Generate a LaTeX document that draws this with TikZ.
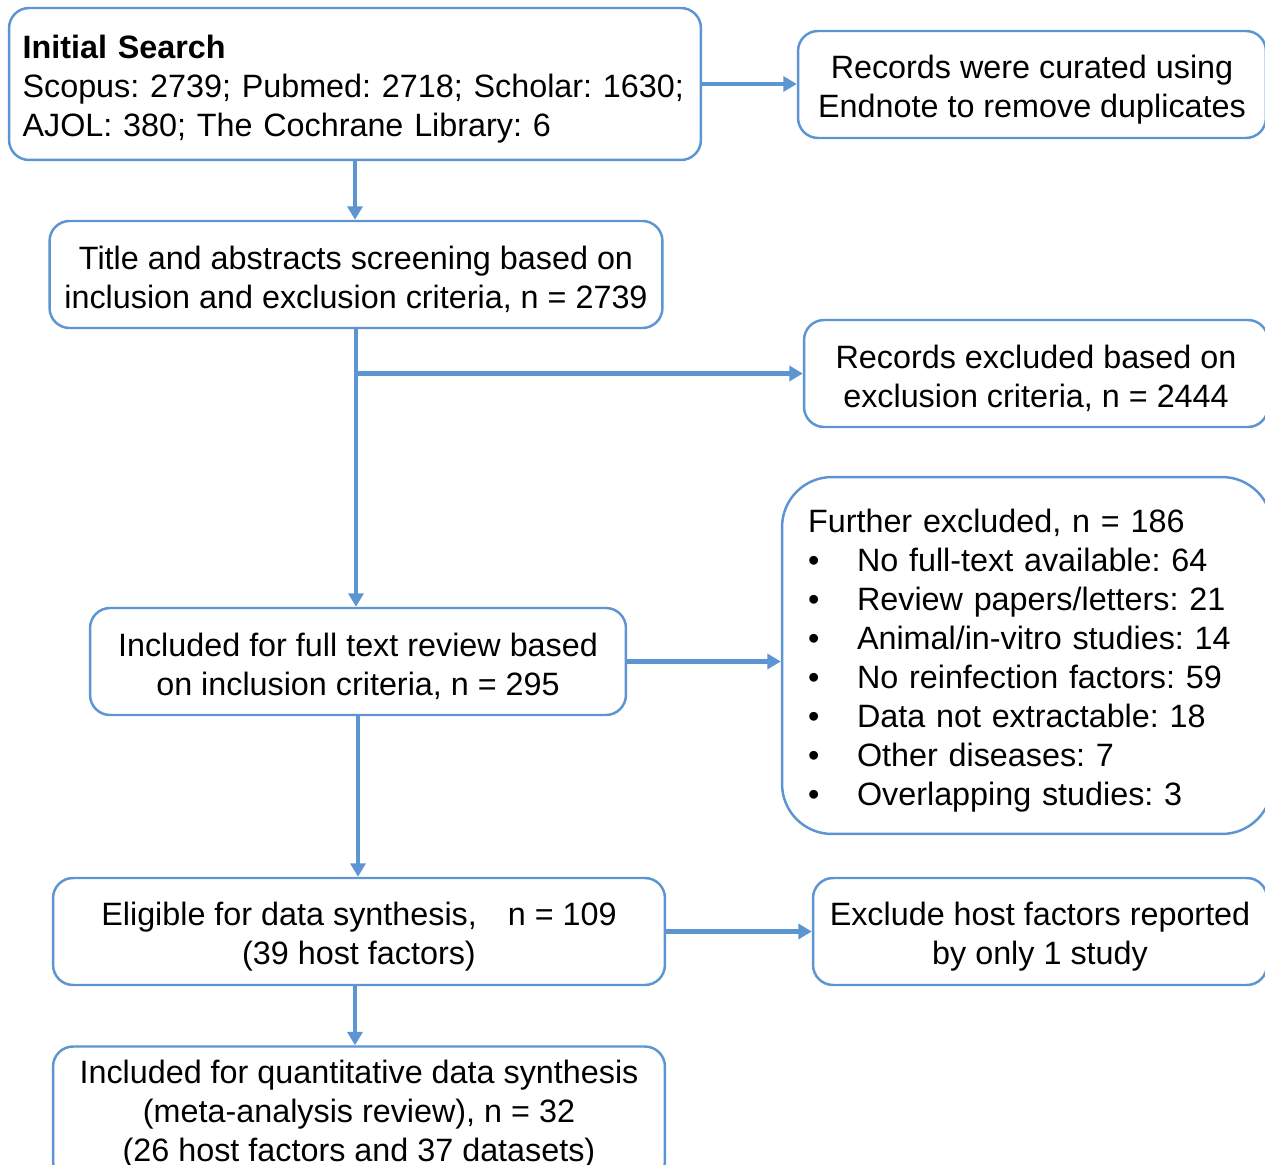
\documentclass[tikz,border=0pt]{standalone}
\usepackage{fontspec}
\setmainfont{Liberation Sans}
\usepackage{xcolor}
\usepackage{tikz}
\usetikzlibrary{arrows.meta,positioning,calc}

\definecolor{flowblue}{RGB}{92,149,210}
\newcommand{\boxstrut}{\rule{0pt}{19pt}}

\begin{document}
\frenchspacing
\begin{tikzpicture}[x=0.02cm, y=-0.02cm,
    every node/.style={font=\fontsize{18.4}{22.2}\selectfont},
    box/.style={draw=flowblue, line width=1.4pt, fill=white, rounded corners=0.4cm, align=center, minimum height=2.14cm},
    arr/.style={draw=flowblue, line width=2.3pt, -{Triangle[length=0.27cm, width=0.3cm]}}]
    \clip (0,0) rectangle (1265,1165);

    % Initial search box
    \node[box, align=left, text width=13.3cm, inner xsep=0.27cm, minimum height=3.04cm] (search) at (355,84)
        {\boxstrut\textbf{Initial Search}\\
         Scopus: 2739; Pubmed: 2718; Scholar: 1630;\\
         AJOL: 380; The Cochrane Library: 6};

    % Duplicates box
    \node[box, minimum width=9.36cm] (endnote) at (1032,84.5)
        {\boxstrut Records were curated using\\ Endnote to remove duplicates};

    % Screening box
    \node[box, minimum width=12.26cm] (screen) at (356,274.5)
        {\boxstrut Title and abstracts screening based on\\ inclusion and exclusion criteria, n = 2739};

    % Excluded box
    \node[box, minimum width=9.28cm] (excl) at (1036,373.5)
        {\boxstrut Records excluded based on\\ exclusion criteria, n = 2444};

    % Further excluded box
    \node[box, align=left, rounded corners=1cm, text width=8.76cm, inner xsep=0.52cm, minimum height=7.14cm] (further) at (1027,655.5)
        {\boxstrut Further excluded, n = 186\\
         \makebox[0.98cm][l]{\textbullet}No full-text available: 64\\
         \makebox[0.98cm][l]{\textbullet}Review papers/letters: 21\\
         \makebox[0.98cm][l]{\textbullet}Animal/in-vitro studies: 14\\
         \makebox[0.98cm][l]{\textbullet}No reinfection factors: 59\\
         \makebox[0.98cm][l]{\textbullet}Data not extractable: 18\\
         \makebox[0.98cm][l]{\textbullet}Other diseases: 7\\
         \makebox[0.98cm][l]{\textbullet}Overlapping studies: 3};

    % Full text box
    \node[box, minimum width=10.72cm] (fulltext) at (358,661.5)
        {\boxstrut Included for full text review based\\ on inclusion criteria, n = 295};

    % Eligible box
    \node[box, minimum width=12.24cm] (eligible) at (359,931.5)
        {\boxstrut Eligible for data synthesis,\hspace{0.62cm}n = 109\\ (39 host factors)};

    % Host factor exclusion box
    \node[box, minimum width=9.08cm] (hostexcl) at (1040,931.5)
        {\boxstrut Exclude host factors reported\\ by only 1 study};

    % Meta-analysis box
    \node[box, minimum width=12.24cm, minimum height=2.7cm] (meta) at (359,1114)
        {Included for quantitative data synthesis\\ (meta-analysis review), n = 32\\ (26 host factors and 37 datasets)};

    % Arrows
    \draw[arr] (search.east) -- (search.east -| endnote.west);
    \draw[arr] (search.south) -- (search.south |- screen.north);
    \draw[arr] (screen.south) -- (screen.south |- fulltext.north);
    \draw[arr] (screen.south |- excl.west) -- (excl.west);
    \draw[arr] (fulltext.east) -- (fulltext.east -| further.west);
    \draw[arr] (fulltext.south) -- (fulltext.south |- eligible.north);
    \draw[arr] (eligible.east) -- (eligible.east -| hostexcl.west);
    \draw[arr] (eligible.south -| search.south) -- (search.south |- meta.north);
\end{tikzpicture}
\end{document}
